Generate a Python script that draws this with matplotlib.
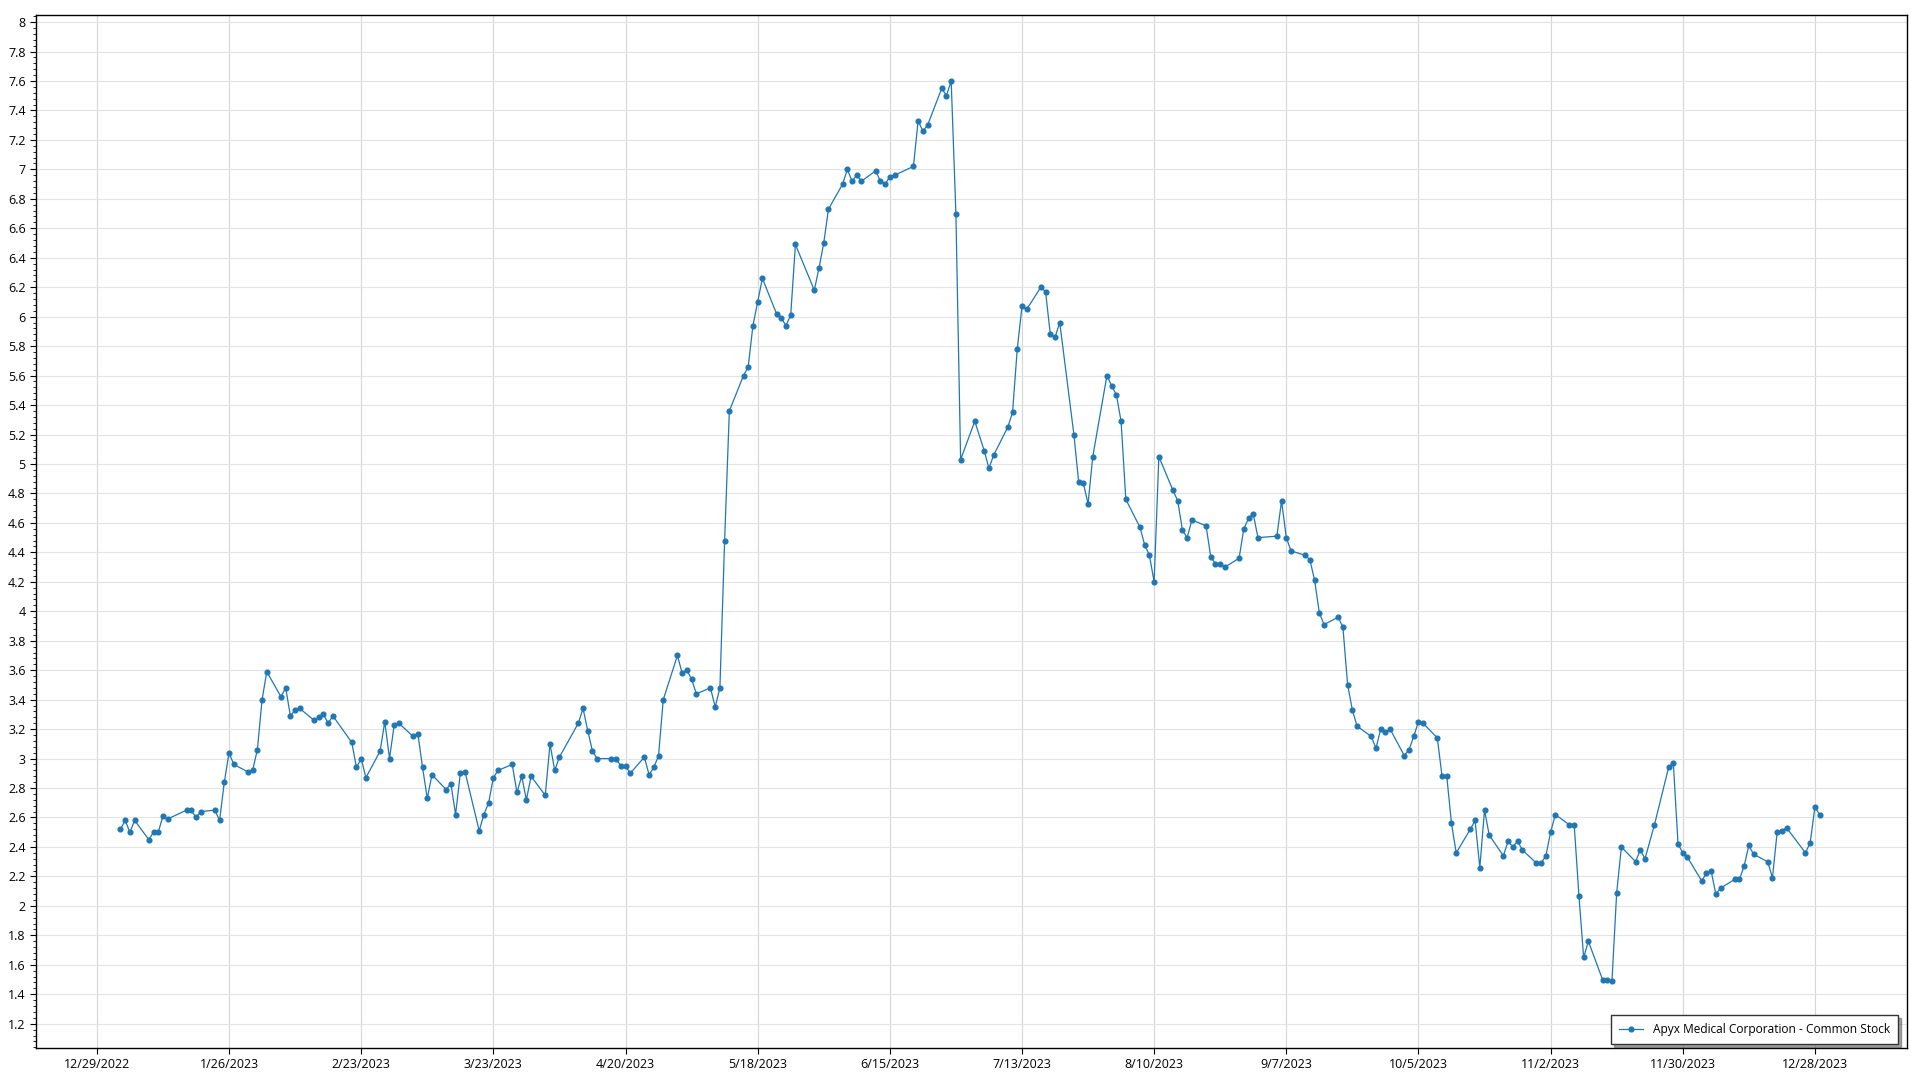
import matplotlib
matplotlib.use('Agg')
import matplotlib.pyplot as plt
from matplotlib.ticker import MultipleLocator, FuncFormatter
import pandas as pd
import datetime as dt

# NYSE holidays in 2023 (trading calendar for the x axis)
holidays = ['2023-01-02', '2023-01-16', '2023-02-20', '2023-04-07', '2023-05-29',
            '2023-06-19', '2023-07-04', '2023-09-04', '2023-11-23', '2023-12-25']

# closing prices, one list per month
jan_close = [2.52, 2.58, 2.50, 2.58, 2.45, 2.50, 2.50, 2.61, 2.59, 2.65,
             2.65, 2.60, 2.64, 2.65, 2.58, 2.84, 3.04, 2.96, 2.91, 2.92]
feb_close = [3.06, 3.40, 3.59, 3.42, 3.48, 3.29, 3.33, 3.34, 3.26, 3.28,
             3.30, 3.24, 3.29, 3.11, 2.94, 3.00, 2.87, 3.05, 3.25]
mar_close = [3.00, 3.23, 3.24, 3.15, 3.17, 2.94, 2.73, 2.89, 2.79, 2.83, 2.62, 2.90,
             2.91, 2.51, 2.62, 2.70, 2.87, 2.92, 2.96, 2.77, 2.88, 2.72, 2.88]
apr_close = [2.75, 3.10, 2.92, 3.01, 3.24, 3.34, 3.19, 3.05, 3.00, 3.00,
             3.00, 2.95, 2.95, 2.90, 3.01, 2.89, 2.94, 3.02, 3.40]
may_close = [3.70, 3.58, 3.60, 3.54, 3.44, 3.48, 3.35, 3.48, 4.48, 5.36, 5.60,
             5.66, 5.94, 6.10, 6.26, 6.02, 5.99, 5.94, 6.01, 6.49, 6.18, 6.33]
jun_close = [6.50, 6.73, 6.90, 7.00, 6.92, 6.96, 6.92, 6.99, 6.92, 6.90, 6.95,
             6.96, 7.02, 7.33, 7.26, 7.30, 7.55, 7.50, 7.60, 6.70, 5.03]
jul_close = [5.29, 5.09, 4.97, 5.06, 5.25, 5.35, 5.78, 6.07, 6.05, 6.20,
             6.17, 5.88, 5.86, 5.96, 5.20, 4.88, 4.87, 4.73, 5.05, 5.60]
aug_close = [5.53, 5.47, 5.29, 4.76, 4.57, 4.45, 4.38, 4.20, 5.05, 4.82, 4.75, 4.55,
             4.50, 4.62, 4.58, 4.37, 4.32, 4.32, 4.30, 4.36, 4.56, 4.63, 4.66]
sep_close = [4.50, 4.51, 4.75, 4.50, 4.41, 4.38, 4.35, 4.21, 3.99, 3.91,
             3.96, 3.89, 3.50, 3.33, 3.22, 3.15, 3.07, 3.20, 3.18, 3.20]
oct_close = [3.02, 3.06, 3.15, 3.25, 3.24, 3.14, 2.88, 2.88, 2.56, 2.36, 2.52,
             2.58, 2.26, 2.65, 2.48, 2.34, 2.44, 2.40, 2.44, 2.38, 2.29, 2.29]
nov_close = [2.34, 2.50, 2.62, 2.55, 2.55, 2.07, 1.65, 1.76, 1.50, 1.50, 1.49,
             2.09, 2.40, 2.30, 2.38, 2.32, 2.55, 2.94, 2.97, 2.42, 2.36]
dec_close = [2.33, 2.17, 2.22, 2.24, 2.08, 2.12, 2.18, 2.18, 2.27, 2.41,
             2.35, 2.30, 2.19, 2.50, 2.51, 2.53, 2.36, 2.43, 2.67, 2.62]

series_name = 'Apyx Medical Corporation - Common Stock'

trading_days = pd.bdate_range('2023-01-03', '2023-12-29', freq='C', holidays=holidays)
close = (jan_close + feb_close + mar_close + apr_close + may_close + jun_close +
         jul_close + aug_close + sep_close + oct_close + nov_close + dec_close)

tick_dates = [dt.datetime(2022, 12, 29) + dt.timedelta(days=28 * i) for i in range(14)]

plt.rcParams['font.family'] = ['Open Sans', 'DejaVu Sans']

fig = plt.figure(figsize=(19.2, 10.8), dpi=100)
ax = fig.add_axes([0.0185, 0.0296, 0.9745, 0.9568])

ax.plot(trading_days, close, color='#1f77b4', linewidth=0.9, marker='o',
        markersize=3.4, label=series_name)

ax.set_xlim(dt.datetime(2022, 12, 16), dt.datetime(2024, 1, 16, 10))
ax.set_xticks(tick_dates)
ax.set_xticklabels(['{}/{}/{}'.format(d.month, d.day, d.year) for d in tick_dates])

ax.set_ylim(1.035, 8.05)
ax.yaxis.set_major_locator(MultipleLocator(0.2))
ax.yaxis.set_minor_locator(MultipleLocator(0.04))
ax.yaxis.set_major_formatter(FuncFormatter(lambda v, p: '{:g}'.format(round(v, 2))))

ax.grid(True, axis='y', which='major', color='#e3e3e3', linewidth=0.8)
ax.grid(True, axis='x', which='major', color='#d6d6d6', linewidth=0.8)
ax.set_axisbelow(True)
ax.tick_params(axis='both', which='major', labelsize=9, length=4, width=0.8, pad=3)
ax.tick_params(axis='y', which='minor', length=2, width=0.6)
for s in ax.spines.values():
    s.set_linewidth(1.0)
    s.set_color('black')

leg = ax.legend(loc='lower right', fontsize=8.6, frameon=True, fancybox=False,
                shadow=True, borderpad=0.7, handlelength=2.0, borderaxespad=0.3,
                bbox_to_anchor=(0.9975, 0.0))
leg.get_frame().set_edgecolor('#333333')
leg.get_frame().set_linewidth(1.0)

fig.savefig('out.png', dpi=100)
